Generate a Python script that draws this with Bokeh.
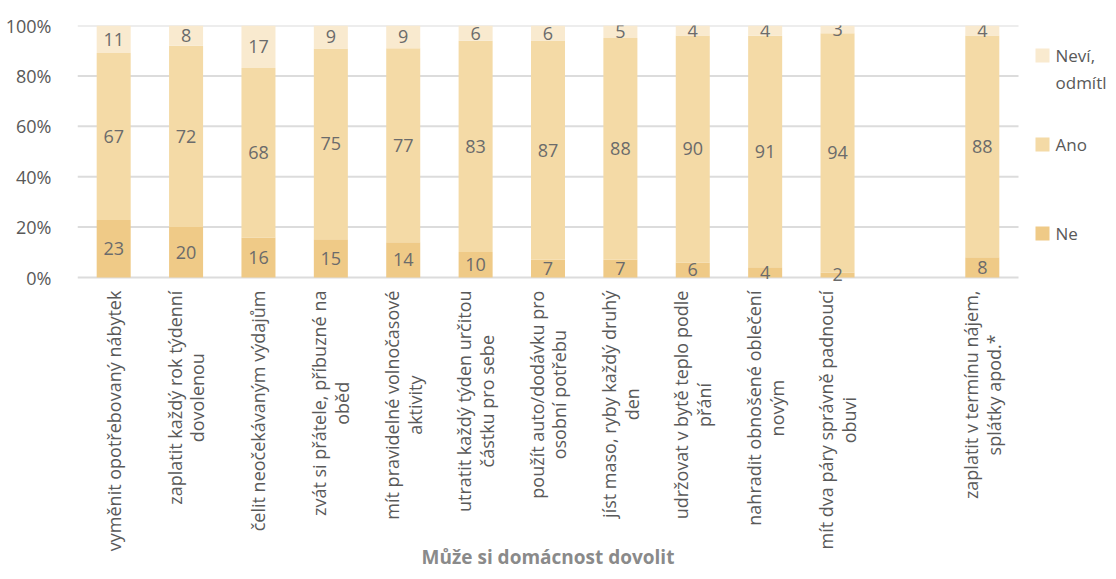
import numpy as np
from bokeh.plotting import figure
from bokeh.models import Range1d, FixedTicker, ColumnDataSource
from bokeh.core.properties import value
from bokeh.embed import file_html
from bokeh.resources import INLINE

# ---------------- data ----------------
categories = [
    "vyměnit opotřebovaný nábytek",
    "zaplatit každý rok týdenní\ndovolenou",
    "čelit neočekávaným výdajům",
    "zvát si přátele, příbuzné na\noběd",
    "mít pravidelné volnočasové\naktivity",
    "utratit každý týden určitou\nčástku pro sebe",
    "použít auto/dodávku pro\nosobní potřebu",
    "jíst maso, ryby každý druhý\nden",
    "udržovat v bytě teplo podle\npřání",
    "nahradit obnošené oblečení\nnovým",
    "mít dva páry správně padnoucí\nobuvi",
    "zaplatit v termínu nájem,\nsplátky apod.*",
]
ne = [23, 20, 16, 15, 14, 10, 7, 7, 6, 4, 2, 8]
ano = [67, 72, 68, 75, 77, 83, 87, 88, 90, 91, 94, 88]
nevi = [11, 8, 17, 9, 9, 6, 6, 5, 4, 4, 3, 4]
series_names = ["Ne", "Ano", "Neví,\nodmítl"]
y_ticks = [0, 20, 40, 60, 80, 100]
y_tick_labels = ["0%", "20%", "40%", "60%", "80%", "100%"]
x_title = "Může si domácnost dovolit"

# ---------------- style / layout ----------------
colors = ["#EFCA87", "#F4DAA6", "#F9EACF"]
FONT = "Open Sans"
VAL_COLOR = "#6b6b6b"
TICK_COLOR = "#595959"
TITLE_COLOR = "#8a8a8a"
GRID_COLOR = "#dcdcdc"

W, H = 1108, 571
FL, FT = 77, 25            # frame left / top (px)
PLOT_R, ZERO_Y = 1018, 277  # right end of bar area, y pixel of 0 %
NSLOT = 13
xpos = list(range(11)) + [12]   # an empty slot before the last bar

slot_px = (PLOT_R - FL) / NSLOT
unit_px = (ZERO_Y - FT) / 100.0
x_start = -0.5
x_end = x_start + (W - FL) / slot_px
y_end = 100.0
y_start = -(H - ZERO_Y) / unit_px


def dx(px):
    return x_start + (px - FL) / slot_px


def dy(py):
    return (ZERO_Y - py) / unit_px


# approximate Open Sans advance widths (units per 2048 em) for centring wrapped labels
_W = {' ': 532, 'a': 1139, 'b': 1255, 'c': 975, 'd': 1255, 'e': 1149, 'f': 694, 'g': 1122,
      'h': 1257, 'i': 518, 'j': 518, 'k': 1075, 'l': 518, 'm': 1905, 'n': 1257, 'o': 1237,
      'p': 1255, 'r': 836, 's': 977, 't': 723, 'u': 1257, 'v': 1026, 'y': 1026, 'z': 977,
      ',': 512, '.': 545, '/': 743, '*': 1128}
_BASE = str.maketrans("áčďéěíňóřšťúůýž", "acdeeinorstuuyz")


def text_px(s, size):
    return sum(_W.get(ch, 1100) for ch in s.translate(_BASE)) / 2048.0 * size


# ---------------- computation ----------------
ne_a = np.array(ne, float)
ano_a = np.array(ano, float)
nevi_a = np.array(nevi, float)
tot = ne_a + ano_a + nevi_a
p_ne = ne_a / tot * 100
p_ano = ano_a / tot * 100
p_nevi = nevi_a / tot * 100

p = figure(width=W, height=H, output_backend="svg", toolbar_location=None,
           x_range=Range1d(x_start, x_end), y_range=Range1d(y_start, y_end),
           min_border_left=FL, min_border_right=0, min_border_top=FT, min_border_bottom=0)
p.outline_line_color = None
p.xaxis.visible = False
p.xgrid.grid_line_color = None
p.ygrid.grid_line_color = None

# grid lines limited to the bar area
p.segment(x0=[x_start] * len(y_ticks), x1=[NSLOT - 0.5] * len(y_ticks), y0=y_ticks, y1=y_ticks,
          line_color=GRID_COLOR, line_width=2)

src = ColumnDataSource(dict(x=xpos, ne=p_ne, ano=p_ano, nevi=p_nevi))
r = p.vbar_stack(["ne", "ano", "nevi"], x="x", width=0.47, source=src,
                 color=colors, line_color=None)

for vals, pcts, base in [(ne, p_ne, np.zeros(len(ne))), (ano, p_ano, p_ne), (nevi, p_nevi, p_ne + p_ano)]:
    ls = ColumnDataSource(dict(x=xpos, y=base + pcts / 2, t=[str(v) for v in vals]))
    p.text(x="x", y="y", text="t", source=ls, text_align="center", text_baseline="middle",
           text_font=value(FONT), text_font_size="18px", text_color=VAL_COLOR)

# y axis
p.yaxis.ticker = FixedTicker(ticks=y_ticks)
p.yaxis.major_label_overrides = {t: l for t, l in zip(y_ticks, y_tick_labels)}
p.yaxis.axis_line_color = None
p.yaxis.major_tick_line_color = None
p.yaxis.minor_tick_line_color = None
p.yaxis.major_label_text_font = FONT
p.yaxis.major_label_text_font_size = "18px"
p.yaxis.major_label_text_color = TICK_COLOR
p.yaxis.major_label_standoff = 20

# category labels, rotated, lines centred, block starting 13 px below the axis
XL_SIZE = 18
label_top = ZERO_Y + 13
lab_y = [dy(label_top + max(text_px(s, XL_SIZE) for s in c.split("\n")) / 2) for c in categories]
cs = ColumnDataSource(dict(x=xpos, y=lab_y, t=categories))
p.text(x="x", y="y", text="t", source=cs, angle=np.pi / 2, text_align="center",
       text_baseline="middle", text_font=value(FONT), text_font_size=f"{XL_SIZE}px",
       text_color=TICK_COLOR, text_line_height=0.95)

# axis title
p.text(x=[(x_start + NSLOT - 0.5) / 2], y=[dy(556)], text=[x_title], text_align="center",
       text_baseline="middle", text_font=value(FONT), text_font_style="bold",
       text_font_size="19px", text_color=TITLE_COLOR)

# legend (top to bottom: Neví, Ano, Ne)
leg_y_px = [233, 144, 55]
p.scatter(x=[dx(1042)] * 3, y=[dy(v) for v in leg_y_px], marker="square", size=14,
          color=colors, line_color=None)
lx, ly, lt = [], [], []
for name, ypx in zip(series_names, leg_y_px):
    for i, line in enumerate(name.split("\n")):
        lx.append(dx(1055))
        ly.append(dy(ypx + 27 * i))
        lt.append(line)
p.text(x=lx, y=ly, text=lt, text_align="left", text_baseline="middle",
       text_font=value(FONT), text_font_size="17px", text_color=TICK_COLOR)

open("out.html", "w").write(file_html(p, INLINE))
